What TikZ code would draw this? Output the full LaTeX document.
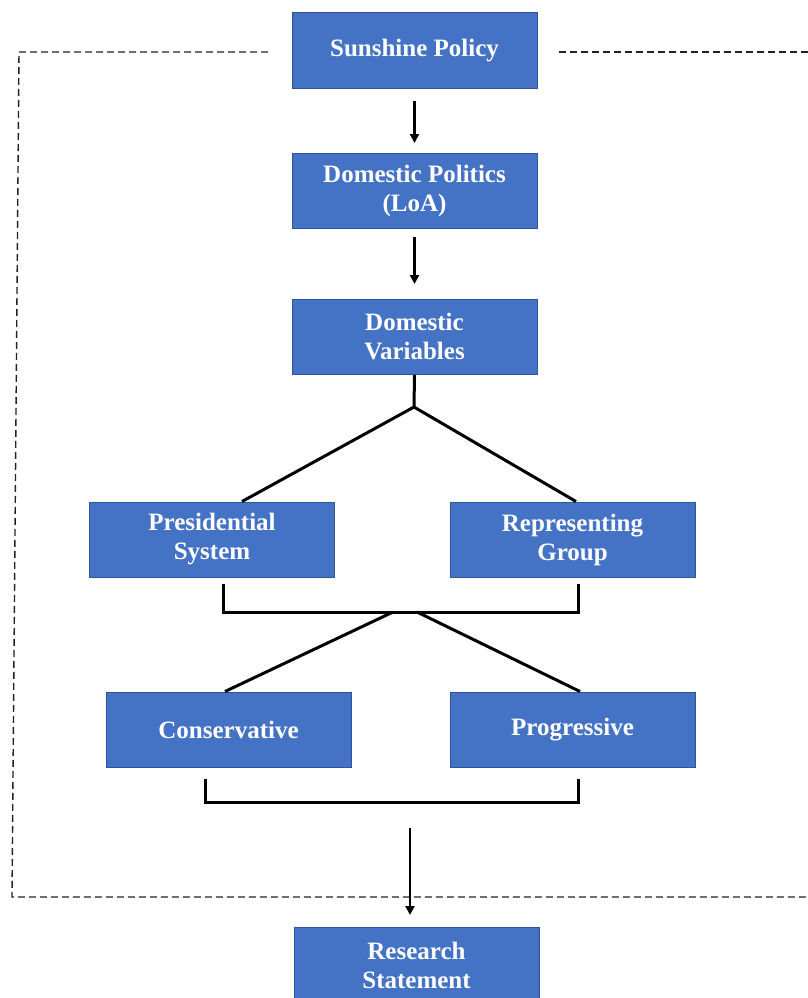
\documentclass[tikz,border=0pt]{standalone}
\usepackage{fontspec}
\setmainfont{Liberation Serif}
\usetikzlibrary{arrows.meta}
\definecolor{boxblue}{HTML}{4472C4}
\definecolor{boxedge}{HTML}{2F5597}
\definecolor{dashgray}{HTML}{222222}
\begin{document}
\begin{tikzpicture}[x=1pt,y=-1pt,
  box/.style={draw=boxedge, line width=1pt, fill=boxblue, text=white,
    font=\fontsize{25}{29}\selectfont\bfseries, minimum width=245pt,
    minimum height=75pt, align=center, inner sep=0pt},
  conn/.style={line width=3pt, black, line join=miter},
  arr/.style={line width=2.8pt, black, -{Triangle[length=9pt,width=9pt]}},
  frame/.style={line width=1.4pt, dashgray, dash pattern=on 7pt off 4pt}]
\useasboundingbox (0,0) rectangle (808,998);
\fill[white] (0,0) rectangle (808,998);

% dashed frame
\coordinate (fa) at (268,52);
\coordinate (fb) at (19,52);
\coordinate (fc) at (12,897);
\coordinate (fd) at (808,897);
\coordinate (fe) at (559,52);
\coordinate (ff) at (808,52);
\draw[frame] (fa) -- (fb) -- (fc) -- (fd);
\draw[frame] (fe) -- (ff);

% boxes
\node[box] (sun)  at (414.5,50.5) {Sunshine Policy};
\node[box] (dp)   at (414.5,191)  {Domestic Politics\\(LoA)};
\node[box] (dv)   at (414.5,337)  {Domestic\\Variables};
\node[box] (pres) at (212,539.5)  {Presidential\\System};
\node[box] (rep)  at (572.5,539.5){Representing\\Group};
\node[box] (cons) at (228.5,729.5){Conservative};
\node[box] (prog) at (572.5,729.5){Progressive};
\node[box] (rs)   at (416.5,965)  {Research\\Statement};

% arrows between top boxes
\draw[arr, shorten <=12pt, shorten >=10pt] (sun) -- (dp);
\draw[arr, shorten <=8pt, shorten >=15pt] (dp) -- (dv);

% split to presidential / representing
\coordinate (j1) at (414,407);
\draw[conn] (dv.south) -- (j1);
\draw[conn] (j1) -- ([xshift=30pt]pres.north);
\draw[conn] (j1) -- ([xshift=3.5pt]rep.north);

% bracket 1
\coordinate (b1l) at (223,584);
\coordinate (b1r) at (578,584);
\coordinate (b1m) at (223,612);
\coordinate (b1n) at (578,612);
\draw[conn] (b1l) -- (b1m) -- (b1n) -- (b1r);

% split to conservative / progressive
\coordinate (j2l) at (393,612);
\coordinate (j2r) at (417,612);
\draw[conn] (j2l) -- ([xshift=-3.5pt]cons.north);
\draw[conn] (j2r) -- ([xshift=7.5pt]prog.north);

% bracket 2
\coordinate (b2l) at (205,779);
\coordinate (b2r) at (578,779);
\coordinate (b2m) at (205,802);
\coordinate (b2n) at (578,802);
\draw[conn] (b2l) -- (b2m) -- (b2n) -- (b2r);

% final arrow
\coordinate (a3) at (410,828);
\draw[arr, shorten >=12pt] (a3) -- ([xshift=-6.5pt]rs.north);
\end{tikzpicture}
\end{document}
